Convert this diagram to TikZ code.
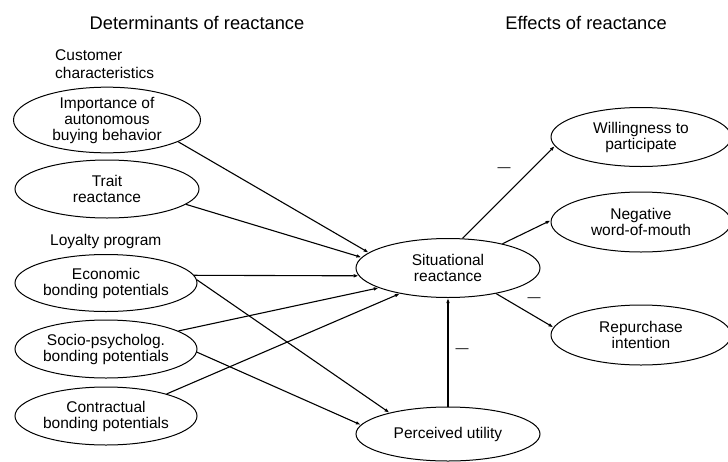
\documentclass[tikz,border=0pt]{standalone}
\usepackage{fontspec}
\setmainfont{Liberation Sans}
\usetikzlibrary{shapes.geometric,arrows.meta}
\begin{document}
\begin{tikzpicture}[x=1pt,y=-1pt,
  ell/.style={draw, ellipse, line width=1pt, inner sep=0pt, align=center,
    font=\fontsize{15.5}{16}\selectfont},
  arr/.style={line width=1.1pt, -{Latex[length=5pt,width=3.6pt]}},
  title/.style={font=\fontsize{18.3}{20}\selectfont},
  grp/.style={font=\fontsize{15.5}{18.3}\selectfont, align=left, anchor=west, inner sep=0pt},
  minus/.style={font=\fontsize{13}{13}\selectfont, inner sep=0pt}]
\useasboundingbox (0,0) rectangle (728,461);
\fill[white] (0,0) rectangle (728,461);

\node[title] (t1) at (197,23) {Determinants of reactance};
\node[title] (t2) at (586,23) {Effects of reactance};
\node[grp] (g1) at (55,64) {Customer\\characteristics};
\node[grp] (g2) at (50,241) {Loyalty program};

\node[ell, minimum width=187pt, minimum height=60pt] (imp) at (107,120) {Importance of\\autonomous\\buying behavior};
\node[ell, minimum width=184pt, minimum height=58pt] (trait) at (107,189) {Trait\\reactance};
\node[ell, minimum width=182pt, minimum height=57pt] (econ) at (106,283) {Economic\\bonding potentials};
\node[ell, minimum width=182pt, minimum height=58pt] (socio) at (106,349) {Socio-psycholog.\\bonding potentials};
\node[ell, minimum width=182pt, minimum height=58pt] (contr) at (106,416) {Contractual\\bonding potentials};

\node[ell, minimum width=184pt, minimum height=59pt] (sit) at (448,268) {Situational\\reactance};
\node[ell, minimum width=184pt, minimum height=54pt] (pu) at (448,434) {Perceived utility};

\node[ell, minimum width=180pt, minimum height=59pt] (will) at (641,137) {Willingness to\\participate};
\node[ell, minimum width=180pt, minimum height=60pt] (neg) at (641,222) {Negative\\word-of-mouth};
\node[ell, minimum width=180pt, minimum height=60pt] (rep) at (641,335) {Repurchase\\intention};

\draw[arr] (imp.-17) -- (sit.169);
\draw[arr] (trait.-11) -- (sit.173);
\draw[arr] (econ.5) -- (sit.185);
\draw[arr] (econ.2) -- (pu.160);
\draw[arr] (socio.14) -- (sit.196);
\draw[arr] (socio.-2) -- (pu.174);
\draw[arr] (contr.20) -- (sit.208);
\draw[arr] (pu.north) -- (sit.south);
\draw[arr] (sit.64) -- (will.186);
\draw[arr] (sit.24) -- (neg.179);
\draw[arr] (sit.-28) -- (rep.175);

\node[minus] (m1) at (504,170) {—};
\node[minus] (m2) at (534,300) {—};
\node[minus] (m3) at (462,351) {—};
\end{tikzpicture}
\end{document}
